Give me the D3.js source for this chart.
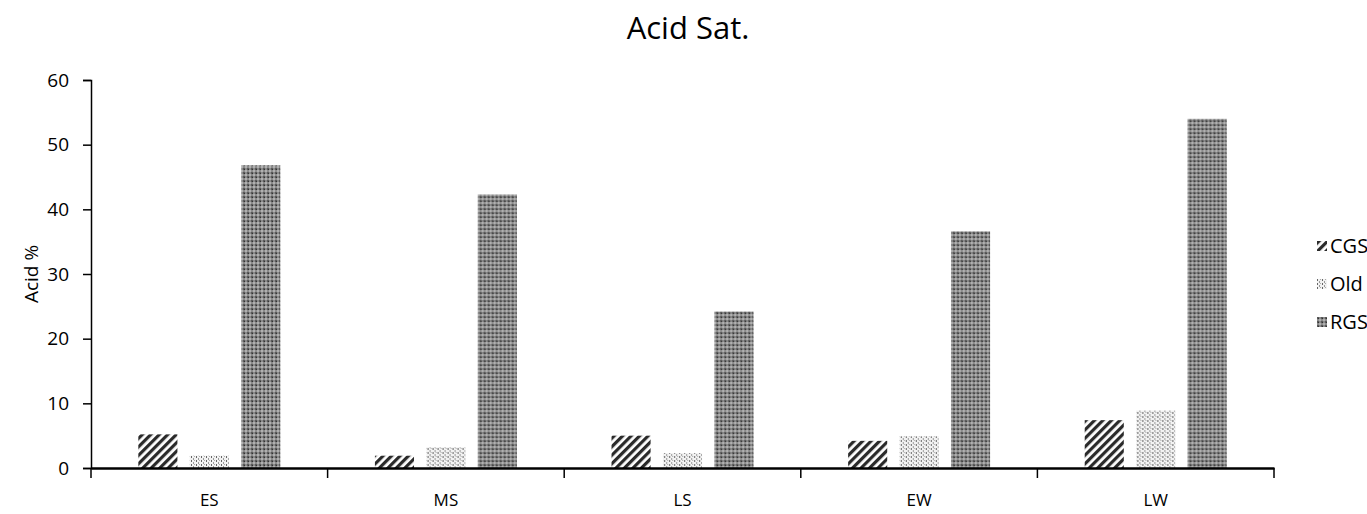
<!DOCTYPE html>
<html lang="en">
<head>
	<meta charset="utf-8">
	<title>Acid Sat.</title>
	<script src="https://d3js.org/d3.v7.min.js" charset="utf-8"></script>
	<style>
	body { margin: 0; background: #fff; }
	text { font-family: "Open Sans", "Liberation Sans", sans-serif; fill: #000; }
	</style>
</head>
<body>
	<script>
	// data
	var stages = ['ES', 'MS', 'LS', 'EW', 'LW'];
	var series = ['CGS', 'Old', 'RGS'];
	var cgs = [5.2, 1.9, 5.0, 4.2, 7.4];
	var old = [1.9, 3.2, 2.3, 4.9, 8.9];
	var rgs = [46.8, 42.3, 24.2, 36.6, 54.0];
	var yTicks = [0, 10, 20, 30, 40, 50, 60];

	var values = { CGS: cgs, Old: old, RGS: rgs };

	var width = 1367;
	var height = 514;

	var svg = d3.select('body')
	.append('svg')
	.attr('width', width)
	.attr('height', height);

	var defs = svg.append('defs');

	// diagonal stripes
	var p1 = defs.append('pattern')
	.attr('id', 'pat-CGS')
	.attr('patternUnits', 'userSpaceOnUse')
	.attr('width', 6).attr('height', 6)
	.attr('patternTransform', 'rotate(45)');
	p1.append('rect').attr('width', 6).attr('height', 6).attr('fill', '#fff');
	p1.append('rect').attr('width', 3.2).attr('height', 6).attr('fill', '#2a2a2a');

	// light dotted grid
	var p2 = defs.append('pattern')
	.attr('id', 'pat-Old')
	.attr('patternUnits', 'userSpaceOnUse')
	.attr('width', 5).attr('height', 4);
	p2.append('rect').attr('width', 5).attr('height', 4).attr('fill', '#f2f2f2');
	p2.append('rect').attr('x', 0).attr('y', 0).attr('width', 1).attr('height', 2).attr('fill', '#666');
	p2.append('rect').attr('x', 2).attr('y', 2).attr('width', 1).attr('height', 2).attr('fill', '#999');
	p2.append('rect').attr('x', 3).attr('y', 0).attr('width', 1).attr('height', 1).attr('fill', '#aaa');

	// dark checker
	var p3 = defs.append('pattern')
	.attr('id', 'pat-RGS')
	.attr('patternUnits', 'userSpaceOnUse')
	.attr('width', 4).attr('height', 4);
	p3.append('rect').attr('width', 4).attr('height', 4).attr('fill', '#8a8a8a');
	p3.append('rect').attr('x', 0).attr('y', 0).attr('width', 2).attr('height', 2).attr('fill', '#5a5a5a');
	p3.append('rect').attr('x', 2).attr('y', 2).attr('width', 2).attr('height', 2).attr('fill', '#b0b0b0');
	p3.append('rect').attr('x', 1).attr('y', 1).attr('width', 1).attr('height', 1).attr('fill', '#333');

	var plotLeft = 91, plotRight = 1274, plotTop = 80, plotBottom = 468;

	var x = d3.scaleBand()
	.domain(stages)
	.range([plotLeft, plotRight])
	.paddingInner(0)
	.paddingOuter(0);

	var xs = d3.scaleBand()
	.domain(series)
	.range([0, x.bandwidth()])
	.paddingInner(0.24)
	.paddingOuter(0.92);

	var y = d3.scaleLinear()
	.domain([0, 60])
	.range([plotBottom, plotTop]);

	// title
	svg.append('text')
	.attr('x', 688).attr('y', 39)
	.attr('text-anchor', 'middle')
	.style('font-size', '31px')
	.text('Acid Sat.');

	// y label
	svg.append('text')
	.attr('transform', 'translate(38,' + ((plotTop + plotBottom) / 2) + ') rotate(-90)')
	.attr('text-anchor', 'middle')
	.style('font-size', '19px')
	.text('Acid %');

	// bars
	var groups = svg.append('g').selectAll('g')
	.data(stages)
	.enter()
	.append('g')
	.attr('transform', function(d) { return 'translate(' + x(d) + ',0)'; });

	groups.selectAll('rect')
	.data(function(d, i) { return series.map(function(s) { return { s: s, v: values[s][i] }; }); })
	.enter()
	.append('rect')
	.attr('x', function(d) { return xs(d.s); })
	.attr('width', xs.bandwidth())
	.attr('y', function(d) { return y(d.v); })
	.attr('height', function(d) { return plotBottom - y(d.v); })
	.attr('fill', function(d) { return 'url(#pat-' + d.s + ')'; });

	// y axis
	var yAxis = svg.append('g')
	.attr('transform', 'translate(' + plotLeft + ',0)')
	.call(d3.axisLeft(y).tickValues(yTicks).tickSize(8).tickPadding(14));
	yAxis.select('.domain').attr('stroke', '#000').attr('stroke-width', 1.5);
	yAxis.selectAll('.tick line').attr('stroke', '#000').attr('stroke-width', 1.5);
	yAxis.selectAll('text').style('font-size', '19px');

	// x axis with ticks at category boundaries
	var xAxis = svg.append('g')
	.attr('transform', 'translate(0,' + plotBottom + ')')
	.call(d3.axisBottom(x).tickSize(0).tickPadding(26));
	xAxis.select('.domain').attr('stroke', '#000').attr('stroke-width', 2.5);
	xAxis.selectAll('text').style('font-size', '17px');

	var bounds = stages.map(function(d) { return x(d); }).concat([x(stages[stages.length - 1]) + x.bandwidth()]);
	xAxis.selectAll('line.bound')
	.data(bounds)
	.enter()
	.append('line')
	.attr('class', 'bound')
	.attr('x1', function(d) { return d; })
	.attr('x2', function(d) { return d; })
	.attr('y1', 0).attr('y2', 10)
	.attr('stroke', '#000').attr('stroke-width', 1.5);

	// legend
	var legend = svg.append('g').selectAll('g')
	.data(series)
	.enter()
	.append('g')
	.attr('transform', function(d, i) { return 'translate(1317,' + (241 + i * 38) + ')'; });

	legend.append('rect')
	.attr('width', 10).attr('height', 10)
	.attr('fill', function(d) { return 'url(#pat-' + d + ')'; });

	legend.append('text')
	.attr('x', 13).attr('y', 12)
	.style('font-size', '20px')
	.text(function(d) { return d; });
	</script>
</body>
</html>
